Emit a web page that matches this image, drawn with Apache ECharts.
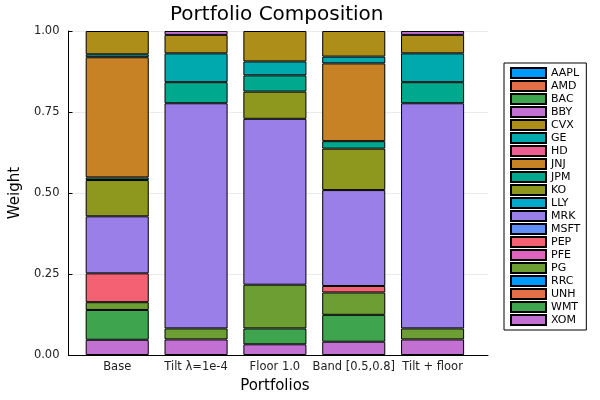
<!DOCTYPE html>
<html>
<head>
<meta charset="utf-8">
<script src="https://cdn.jsdelivr.net/npm/echarts@6/dist/echarts.min.js"></script>
<style>
    html, body { margin: 0; padding: 0; background: #fff; }
    #main { width: 600px; height: 400px; }
</style>
</head>
<body>
<div id="main"></div>
<script>
// 组合名称（x轴）
var portfolios = ['Base', 'Tilt λ=1e-4', 'Floor 1.0', 'Band [0.5,0.8]', 'Tilt + floor'];
// 图例顺序
var tickers = ['AAPL', 'AMD', 'BAC', 'BBY', 'CVX', 'GE', 'HD', 'JNJ', 'JPM', 'KO',
               'LLY', 'MRK', 'MSFT', 'PEP', 'PFE', 'PG', 'RRC', 'UNH', 'WMT', 'XOM'];
// 每只股票在各组合中的权重
var AAPL = [0, 0, 0, 0, 0];
var AMD  = [0, 0, 0, 0, 0];
var BAC  = [0, 0, 0, 0, 0];
var BBY  = [0, 0.012, 0, 0, 0.012];
var CVX  = [0.072, 0.057, 0.094, 0.079, 0.057];
var GE   = [0.009, 0.089, 0.043, 0.021, 0.089];
var HD   = [0, 0, 0, 0, 0];
var JNJ  = [0.371, 0, 0, 0.240, 0];
var JPM  = [0.008, 0.065, 0.050, 0.023, 0.065];
var KO   = [0.112, 0, 0.084, 0.128, 0];
var LLY  = [0, 0, 0, 0, 0];
var MRK  = [0.176, 0.695, 0.512, 0.296, 0.695];
var MSFT = [0, 0, 0, 0, 0];
var PEP  = [0.089, 0, 0, 0.020, 0];
var PFE  = [0, 0, 0, 0, 0];
var PG   = [0.024, 0.034, 0.135, 0.069, 0.034];
var RRC  = [0, 0, 0, 0, 0];
var UNH  = [0, 0, 0, 0, 0];
var WMT  = [0.092, 0, 0.049, 0.083, 0];
var XOM  = [0.047, 0.048, 0.033, 0.041, 0.048];

var weights = {AAPL: AAPL, AMD: AMD, BAC: BAC, BBY: BBY, CVX: CVX, GE: GE, HD: HD, JNJ: JNJ,
               JPM: JPM, KO: KO, LLY: LLY, MRK: MRK, MSFT: MSFT, PEP: PEP, PFE: PFE, PG: PG,
               RRC: RRC, UNH: UNH, WMT: WMT, XOM: XOM};

var palette = ['#009AFA', '#E36F47', '#3EA44E', '#C271D2', '#AC8E18', '#00A9AD', '#ED5E93', '#C68225',
               '#00A98D', '#8E971E', '#00A8CB', '#9B7FE9', '#618DF6', '#F46173', '#DF64BE', '#6C9E33'];

(function(){
    var chart = echarts.init(document.getElementById('main'));
    var series = [];
    // 堆叠从底部开始：XOM 在最下面
    for (var i = tickers.length - 1; i >= 0; i--) {
        var name = tickers[i];
        series.push({
            name: name,
            type: 'bar',
            stack: 'w',
            xAxisIndex: 1,
            yAxisIndex: 1,
            barWidth: '80%',
            itemStyle: {
                color: palette[i % palette.length],
                borderColor: '#000',
                borderWidth: 1
            },
            // 权重为0的不画（避免多出的黑线）
            data: weights[name].map(function(v){ return v === 0 ? '-' : v; })
        });
    }
    var option = {
        animation: false,
        textStyle: { fontFamily: 'DejaVu Sans' },
        title: {
            text: 'Portfolio Composition',
            left: 165,
            top: 0,
            textStyle: { fontSize: 20, fontWeight: 'normal', color: '#000', fontFamily: 'DejaVu Sans' }
        },
        legend: {
            orient: 'vertical',
            left: 504,
            top: 63,
            data: tickers,
            icon: 'rect',
            itemWidth: 35,
            itemHeight: 10,
            itemGap: 1,
            padding: [4, 6, 4, 6],
            borderColor: '#000',
            borderWidth: 1,
            textStyle: { fontSize: 11, color: '#000', fontFamily: 'DejaVu Sans' }
        },
        grid: [
            // 外框：轴线和网格
            { left: 62, right: 112, top: 31, bottom: 45 },
            // 柱子所在区域
            { left: 77.8, right: 128, top: 31, bottom: 45 }
        ],
        xAxis: [{
            type: 'value',
            gridIndex: 0,
            min: 0,
            max: 1,
            axisLine: { lineStyle: { color: '#000' } },
            axisTick: { show: false },
            axisLabel: { show: false },
            splitLine: { show: false }
        }, {
            type: 'category',
            gridIndex: 1,
            data: portfolios,
            name: 'Portfolios',
            nameLocation: 'middle',
            nameGap: 24,
            nameTextStyle: { fontSize: 15, color: '#000' },
            axisLine: { show: false },
            axisTick: { show: true, inside: true, alignWithLabel: true, length: 4, lineStyle: { color: '#000' } },
            axisLabel: { fontSize: 11.5, color: '#222', margin: 6, interval: 0 },
            splitLine: { show: false }
        }],
        yAxis: [{
            type: 'value',
            gridIndex: 0,
            min: 0,
            max: 1,
            interval: 0.25,
            name: 'Weight',
            nameLocation: 'middle',
            nameGap: 40,
            nameTextStyle: { fontSize: 15, color: '#000' },
            axisLine: { show: true, lineStyle: { color: '#000' } },
            axisTick: { show: true, inside: true, length: 4, lineStyle: { color: '#000' } },
            axisLabel: {
                fontSize: 11.5,
                color: '#222',
                margin: 9,
                formatter: function(v){ return v.toFixed(2); }
            },
            splitLine: { lineStyle: { color: 'rgba(0,0,0,0.08)' } }
        }, {
            type: 'value',
            gridIndex: 1,
            min: 0,
            max: 1,
            show: false
        }],
        series: series
    };
    chart.setOption(option);
    window.addEventListener('resize', function(){
        chart.resize();
    });
})();
</script>
</body>
</html>
